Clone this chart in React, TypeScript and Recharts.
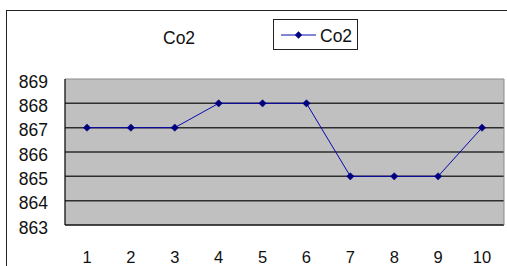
import React from 'react';
import { LineChart, Line, XAxis, YAxis, CartesianGrid, ReferenceLine } from 'recharts';

const categories = ['1', '2', '3', '4', '5', '6', '7', '8', '9', '10'];
const co2Values = [867, 867, 867, 868, 868, 868, 865, 865, 865, 867];
const yTicks = [863, 864, 865, 866, 867, 868, 869];
const innerGridValues = [864, 865, 866, 867, 868];
const bandBoundaries = [1, 2, 3, 4, 5, 6, 7, 8, 9];
const seriesName = 'Co2';
const titleText = 'Co2';

const data = categories.map((c, i) => ({ cat: c, value: co2Values[i] }));

const LINE_COLOR = '#0808b0';
const MARKER_COLOR = '#000080';
const FONT = '"Liberation Sans", Arial, sans-serif';

const Diamond = (props: any) => {
  const { cx, cy } = props;
  if (cx == null || cy == null) return null;
  const r = 3.7;
  return (
    <path
      d={`M${cx},${cy - r} L${cx + r},${cy} L${cx},${cy + r} L${cx - r},${cy} Z`}
      fill={MARKER_COLOR}
      stroke={MARKER_COLOR}
      strokeWidth={0.5}
    />
  );
};

const YTick = (props: any) => {
  const { x, y, payload } = props;
  return (
    <text x={x} y={y + 8.5} textAnchor="end" fontFamily={FONT} fontSize={17.5} fill="#111">
      {payload.value}
    </text>
  );
};

const XTick = (props: any) => {
  const { x, y, payload } = props;
  return (
    <text x={x} y={y + 38} textAnchor="middle" fontFamily={FONT} fontSize={16.5} fill="#111">
      {payload.value}
    </text>
  );
};

export default function App() {
  return (
    <div style={{ position: 'absolute', left: 0, top: 0, width: 507, height: 266, background: '#fff', overflow: 'hidden' }}>
      <div
        style={{
          position: 'absolute',
          left: 6,
          top: 10,
          width: 520,
          height: 300,
          borderLeft: '1px solid #222',
          borderTop: '1px solid #222',
        }}
      />
      <div
        style={{
          position: 'absolute',
          left: 163,
          top: 27,
          fontFamily: FONT,
          fontSize: 17.5,
          color: '#111',
          lineHeight: '22px',
        }}
      >
        {titleText}
      </div>
      <div
        style={{
          position: 'absolute',
          left: 273,
          top: 19,
          width: 85,
          height: 31,
          border: '1px solid #222',
          boxSizing: 'border-box',
        }}
      >
        <svg width={85} height={31} style={{ position: 'absolute', left: 0, top: 0 }}>
          <line x1={7} y1={15} x2={42} y2={15} stroke={LINE_COLOR} strokeWidth={1.2} />
          <path d="M24.5,11.3 L28.2,15 L24.5,18.7 L20.8,15 Z" fill={MARKER_COLOR} />
          <text x={46} y={21.5} fontFamily={FONT} fontSize={17.5} fill="#111">
            {seriesName}
          </text>
        </svg>
      </div>
      <div style={{ position: 'absolute', left: 0, top: 0 }}>
        <LineChart width={507} height={266} data={data} margin={{ top: 79, right: 2, bottom: 40, left: 64 }}>
          <CartesianGrid horizontal={false} vertical={false} fill="#c0c0c0" />
          {innerGridValues.map((v) => (
            <ReferenceLine key={v} y={v} stroke="#2e2e2e" strokeWidth={1.5} />
          ))}
          <ReferenceLine y={869} stroke="#8a8a8a" strokeWidth={1} />
          <XAxis
            dataKey="cat"
            height={1}
            padding={{ left: 22, right: 22 }}
            tickLine={false}
            tickSize={0}
            tickMargin={0}
            axisLine={{ stroke: '#111', strokeWidth: 1.3 }}
            tick={<XTick />}
            interval={0}
          />
          <XAxis
            xAxisId="bands"
            type="number"
            domain={[0, 10]}
            ticks={bandBoundaries}
            height={1}
            mirror
            tickSize={4}
            tick={false}
            axisLine={false}
            tickLine={{ stroke: '#111', strokeWidth: 1.2 }}
          />
          <YAxis
            domain={[863, 869]}
            ticks={yTicks}
            width={1}
            tickSize={0}
            tickMargin={17}
            tickLine={false}
            axisLine={{ stroke: '#111', strokeWidth: 1.3 }}
            tick={<YTick />}
            interval={0}
          />
          <YAxis
            yAxisId="right"
            orientation="right"
            width={1}
            domain={[863, 869]}
            tick={false}
            tickLine={false}
            axisLine={{ stroke: '#8a8a8a', strokeWidth: 1 }}
          />
          <Line
            type="linear"
            dataKey="value"
            name={seriesName}
            stroke={LINE_COLOR}
            strokeWidth={1}
            dot={<Diamond />}
            activeDot={false}
            isAnimationActive={false}
          />
        </LineChart>
      </div>
    </div>
  );
}
